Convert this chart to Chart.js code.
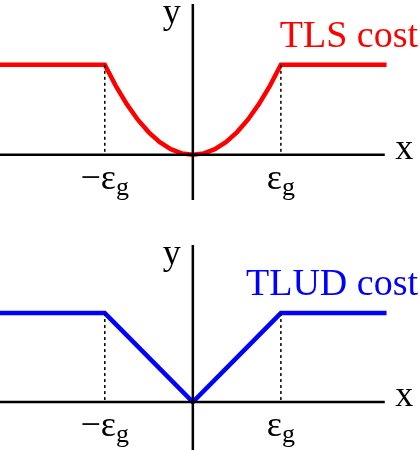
<!DOCTYPE html>
<html><head><meta charset="utf-8">
<script src="https://cdn.jsdelivr.net/npm/chart.js@4"></script>
<style>html,body{margin:0;padding:0;background:#fff}canvas{display:block}
.w{position:absolute;left:0;width:420px;height:225px}</style></head>
<body>
<div class="w" style="top:0"><canvas id="c1"></canvas></div>
<div class="w" style="top:225px"><canvas id="c2"></canvas></div>
<script>
const tlsX = [-2.2,-1,-0.875,-0.75,-0.625,-0.5,-0.375,-0.25,-0.125,0,0.125,0.25,0.375,0.5,0.625,0.75,0.875,1,2.2];
const tlsY = [1,1,0.766,0.5625,0.39,0.25,0.14,0.0625,0.016,0,0.016,0.0625,0.14,0.25,0.39,0.5625,0.766,1,1];
const tludX = [-2.2,-1,0,1,2.2];
const tludY = [1,1,0,1,1];
const tickLabels = ['\u2212\u03b5','\u03b5'];
const tickPos = [-1,1];

function mk(id,xs,ys,color,title,yMin,yMax,yAxTop,yAxBot){
  const deco={id:'deco',afterDatasetsDraw(ch){
    const c=ch.ctx,X=ch.scales.x,Y=ch.scales.y;
    const x0=X.getPixelForValue(0),y0=Y.getPixelForValue(0),y1=Y.getPixelForValue(1);
    c.save();c.strokeStyle='#000';c.lineWidth=2.5;
    c.beginPath();c.moveTo(0,y0);c.lineTo(X.getPixelForValue(2.18),y0);c.stroke();
    c.beginPath();c.moveTo(x0,yAxTop);c.lineTo(x0,yAxBot);c.stroke();
    c.lineWidth=1.5;c.setLineDash([3,3]);
    tickPos.forEach(v=>{const px=X.getPixelForValue(v);c.beginPath();c.moveTo(px,y1);c.lineTo(px,y0);c.stroke();});
    c.setLineDash([]);
    c.fillStyle='#000';c.font='36px "Liberation Serif"';c.textBaseline='middle';c.textAlign='left';
    c.fillText('x',X.getPixelForValue(2.3),y0-5);
    c.fillText('y',x0-30,yAxTop+10);
    tickPos.forEach((v,i)=>{const px=X.getPixelForValue(v);
      c.font='36px "Liberation Serif"';const w=c.measureText(tickLabels[i]).width;
      c.font='26px "Liberation Serif"';const w2=c.measureText('g').width;
      const sx=px-(w+w2)/2;
      c.font='36px "Liberation Serif"';c.fillText(tickLabels[i],sx,y0+25);
      c.font='26px "Liberation Serif"';c.fillText('g',sx+w,y0+33);});
    c.fillStyle=color;c.font='38px "Liberation Serif"';c.textAlign='right';
    c.fillText(title,418,y1-28);
    c.restore();}};
  new Chart(document.getElementById(id),{type:'line',
    data:{datasets:[{data:xs.map((x,i)=>({x,y:ys[i]})),borderColor:color,borderWidth:4.5,pointRadius:0,tension:0,fill:false}]},
    options:{responsive:true,maintainAspectRatio:false,animation:false,
      layout:{padding:0},
      plugins:{legend:{display:false},tooltip:{enabled:false}},
      scales:{x:{type:'linear',min:-2.19,max:2.58,display:false},y:{min:yMin,max:yMax,display:false}}},
    plugins:[deco]});
}
mk('c1',tlsX,tlsY,'#ff0000','TLS cost',-0.78,1.72,4,200);
mk('c2',tludX,tludY,'#0000ff','TLUD cost',-0.54,1.99,20,225);
</script></body></html>
